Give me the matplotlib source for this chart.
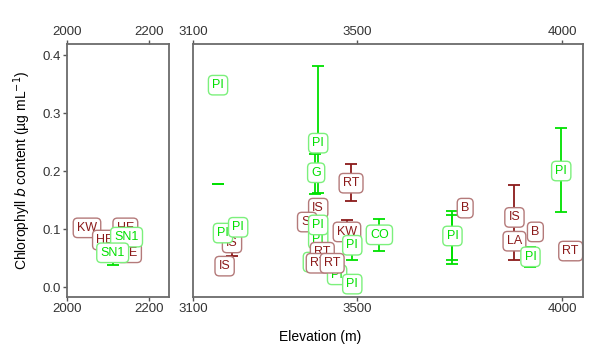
import matplotlib
matplotlib.use("Agg")
import matplotlib.pyplot as plt

plt.rcParams["font.family"] = ["Liberation Sans", "DejaVu Sans"]

RED = "#8B1A1A"
GREEN = "#00E000"
EDGE = {"r": "#B47A7A", "g": "#7CF07C"}
TEXT = {"r": RED, "g": GREEN}

# labels: (site, elevation, chl b, group) -- drawn in list order
left_labels = [
    ("KW", 2049, 0.102, "r"),
    ("HE", 2093, 0.081, "r"),
    ("HE", 2143, 0.102, "r"),
    ("HE", 2152, 0.059, "r"),
    ("SN1", 2146, 0.086, "g"),
    ("SN1", 2112, 0.059, "g"),
]
left_bars = [  # (elevation, low, high, group)
    (2143, 0.090, 0.115, "r"),
    (2093, 0.070, 0.091, "r"),
    (2112, 0.038, 0.080, "g"),
]

right_labels = [
    ("PI", 3161, 0.348, "g"),
    ("IS", 3195, 0.076, "r"),
    ("PI", 3173, 0.093, "g"),
    ("PI", 3210, 0.103, "g"),
    ("IS", 3177, 0.036, "r"),
    ("PI", 3405, 0.248, "g"),
    ("G", 3400, 0.197, "g"),
    ("RT", 3485, 0.179, "r"),
    ("IS", 3405, 0.136, "r"),
    ("SI", 3378, 0.112, "r"),
    ("PI", 3405, 0.083, "g"),
    ("PI", 3405, 0.107, "g"),
    ("KW", 3475, 0.095, "r"),
    ("PI", 3488, 0.072, "g"),
    ("CO", 3554, 0.090, "g"),
    ("PI", 3392, 0.043, "g"),
    ("RT", 3415, 0.060, "r"),
    ("RT", 3405, 0.041, "r"),
    ("PI", 3451, 0.021, "g"),
    ("RT", 3439, 0.041, "r"),
    ("PI", 3488, 0.005, "g"),
    ("B", 3763, 0.136, "r"),
    ("PI", 3732, 0.088, "g"),
    ("IS", 3883, 0.120, "r"),
    ("B", 3934, 0.095, "r"),
    ("LA", 3883, 0.079, "r"),
    ("PI", 3922, 0.052, "g"),
    ("PI", 3997, 0.200, "g"),
    ("RT", 4020, 0.062, "r"),
]
right_bars = [
    (3161, 0.178, 0.178, "g"),
    (3405, 0.162, 0.381, "g"),
    (3398, 0.160, 0.230, "g"),
    (3485, 0.148, 0.212, "r"),
    (3195, 0.053, 0.090, "r"),
    (3475, 0.080, 0.116, "r"),
    (3488, 0.047, 0.090, "g"),
    (3554, 0.062, 0.117, "g"),
    (3732, 0.040, 0.131, "g"),
    (3732, 0.047, 0.125, "g"),
    (3883, 0.047, 0.176, "r"),
    (3922, 0.034, 0.069, "g"),
    (3997, 0.129, 0.274, "g"),
    (4020, 0.047, 0.078, "r"),
]

left_ticks = [2000, 2200]
right_ticks = [3100, 3500, 4000]
y_ticks = [0.0, 0.1, 0.2, 0.3, 0.4]
YLIM = (-0.0172, 0.419)

fig = plt.figure(figsize=(6, 3.48), dpi=100)
ax_l = fig.add_axes([67 / 600, 1 - 297 / 348, 102 / 600, 253 / 348])
ax_r = fig.add_axes([193 / 600, 1 - 297 / 348, 390 / 600, 253 / 348])


def draw(ax, labels, bars):
    for x, lo, hi, g in bars:
        mid = (lo + hi) / 2
        ax.errorbar([x], [mid], yerr=[[mid - lo], [hi - mid]], color=TEXT[g],
                    lw=1.3, capsize=4.3, capthick=1.3, zorder=2)
    for i, (name, x, y, g) in enumerate(labels):
        t = ax.text(x, y, name, color=TEXT[g], fontsize=9, ha="center", va="center",
                    zorder=3 + i,
                    bbox=dict(boxstyle="round,pad=0.3,rounding_size=0.35", fc="white",
                              ec=EDGE[g], lw=1.0))
        t.set_clip_path(ax.patch)


draw(ax_l, left_labels, left_bars)
draw(ax_r, right_labels, right_bars)

for ax, lim, ticks in [(ax_l, (2000, 2250), left_ticks), (ax_r, (3100, 4050), right_ticks)]:
    ax.set_xlim(*lim)
    ax.set_ylim(*YLIM)
    ax.set_xticks(ticks)
    ax.tick_params(axis="x", top=True, labeltop=True, direction="out", length=3,
                   width=1, color="#555555", labelsize=9.5, labelcolor="#333333", pad=1.5)
    for s in ax.spines.values():
        s.set_color("#6b6b6b")
        s.set_linewidth(1.3)
        s.set_zorder(50)

ax_l.set_yticks(y_ticks)
ax_l.set_yticklabels([f"{v:.1f}" for v in y_ticks])
ax_l.tick_params(axis="y", direction="out", length=3, width=1, color="#555555",
                 labelsize=9.5, labelcolor="#333333", pad=1.5)
ax_r.set_yticks([])

fig.text(22 / 600, 1 - 170 / 348, r"Chlorophyll $\mathit{b}$ content (µg mL$^{-1}$)",
         rotation=90, ha="center", va="center", fontsize=10)
fig.text(320 / 600, 1 - 337 / 348, "Elevation (m)", ha="center", va="center", fontsize=10)

fig.savefig("out.png", dpi=100)
